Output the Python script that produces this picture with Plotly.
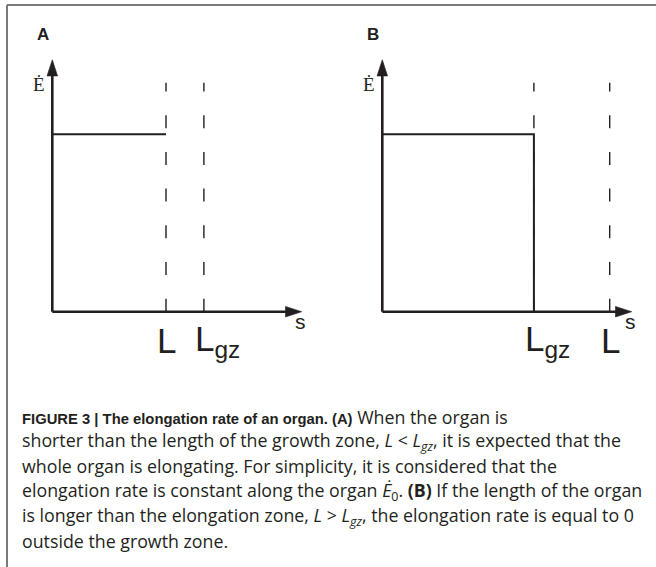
import plotly.graph_objects as go

# ---- data (schematic values, arbitrary units) ----
E0 = 1.0                 # constant elongation rate
A_L, A_LGZ = 3.0, 4.0    # panel A: organ length < growth-zone length
B_LGZ, B_L = 4.0, 6.0    # panel B: growth-zone length < organ length
S_END = 6.58             # length of s axis
E_TOP = 1.42             # length of rate axis
DASH_TOP = 1.29          # top of dashed guide lines

A_ticks = [A_L, A_LGZ]
A_labels = ["L", "L<sub>gz</sub>"]
B_ticks = [B_LGZ, B_L]
B_labels = ["L<sub>gz</sub>", "L"]

BOLD = "<span style='font-family:Liberation Sans, Arial;font-size:14.8px'><b>%s</b></span>"
caption_lines = [
    BOLD % "FIGURE 3 | The elongation rate of an organ. (A)" + " When the organ is",
    "shorter than the length of the growth zone, <i>L</i> &lt; <i>L<sub>gz</sub></i>, it is expected that the",
    "whole organ is elongating. For simplicity, it is considered that the",
    "elongation rate is constant along the organ <i>Ė</i><sub>0</sub>. <b>(B)</b> If the length of the organ",
    "is longer than the elongation zone, <i>L</i> &gt; <i>L<sub>gz</sub></i>, the elongation rate is equal to 0",
    "outside the growth zone.",
]

# ---- layout geometry ----
W, H = 656, 567
PX_X = 37.9      # px per s unit
PX_Y = 177.4     # px per rate unit
OX_A, OX_B = 52.3, 382.3
OY = 311.7       # origin y from top
INK = "#231f20"

xr_A = [-OX_A / PX_X, (W - OX_A) / PX_X]
xr_B = [-OX_B / PX_X, (W - OX_B) / PX_X]
yr = [-(H - OY) / PX_Y, OY / PX_Y]

fig = go.Figure()

def dashed(x, xa):
    fig.add_trace(go.Scatter(x=[x, x], y=[0, DASH_TOP], mode="lines", xaxis=xa, yaxis="y",
                             line=dict(color=INK, width=1.4, dash="13px,23.7px"),
                             hoverinfo="skip", showlegend=False))

def axis_arrow(xs, ys, xa):
    fig.add_trace(go.Scatter(x=xs, y=ys, mode="lines+markers", xaxis=xa, yaxis="y",
                             line=dict(color=INK, width=2.6),
                             marker=dict(symbol=["circle", "arrow"], size=[0, 17],
                                         angleref="previous", color=INK, opacity=1,
                                         line=dict(width=0.6, color=INK)),
                             hoverinfo="skip", showlegend=False))

for t in A_ticks:
    dashed(t, "x")
for t in B_ticks:
    dashed(t, "x2")

fig.add_trace(go.Scatter(x=[0, A_L], y=[E0, E0], mode="lines", xaxis="x", yaxis="y",
                         line=dict(color=INK, width=2), showlegend=False, hoverinfo="skip"))
fig.add_trace(go.Scatter(x=[0, B_LGZ, B_LGZ], y=[E0, E0, 0], mode="lines", xaxis="x2", yaxis="y",
                         line=dict(color=INK, width=2), showlegend=False, hoverinfo="skip"))

ann = []
for xa, panel in (("x", "A"), ("x2", "B")):
    axis_arrow([0, 0], [0, E_TOP], xa)
    axis_arrow([0, S_END], [0, 0], xa)
    ann.append(dict(x=0, y=E_TOP, xref=xa, yref="y", text="Ė", showarrow=False,
                    xanchor="center", yanchor="middle", xshift=-13, yshift=-25,
                    font=dict(family="Liberation Serif", size=19, color=INK)))
    ann.append(dict(x=S_END, y=0, xref=xa, yref="y", text="s", showarrow=False,
                    xanchor="center", yanchor="middle", xshift=-1, yshift=-10,
                    font=dict(family="Liberation Sans", size=21, color=INK)))
    ann.append(dict(x=0, y=E_TOP, xref=xa, yref="y", text="<b>%s</b>" % panel, showarrow=False,
                    xanchor="center", yanchor="middle", xshift=-9, yshift=25,
                    font=dict(family="Liberation Sans", size=17, color=INK)))

for ticks, labels, xa in ((A_ticks, A_labels, "x"), (B_ticks, B_labels, "x2")):
    for t, lab in zip(ticks, labels):
        ann.append(dict(x=t, y=0, xref=xa, yref="y", text=lab, showarrow=False,
                        xanchor="left", yanchor="middle", xshift=-11, yshift=-29,
                        font=dict(family="Liberation Sans", size=35, color=INK)))

y0, dy = 416.5, 24.9
for i, line in enumerate(caption_lines):
    ann.append(dict(x=21 / W, y=1 - (y0 + i * dy) / H, xref="paper", yref="paper",
                    text=line, showarrow=False, xanchor="left", yanchor="middle",
                    borderpad=0,
                    font=dict(family="Open Sans", size=17.8, color=INK)))

shapes = [
    dict(type="line", xref="paper", yref="paper", x0=7 / W, x1=1, y0=1 - 5 / H, y1=1 - 5 / H,
         line=dict(color="#7a7a7a", width=2)),
    dict(type="line", xref="paper", yref="paper", x0=7 / W, x1=7 / W, y0=0, y1=1 - 5 / H,
         line=dict(color="#7a7a7a", width=2)),
]

fig.update_layout(
    width=W, height=H, margin=dict(l=0, r=0, t=0, b=0),
    paper_bgcolor="white", plot_bgcolor="white",
    xaxis=dict(range=xr_A, visible=False, domain=[0, 1], fixedrange=True),
    xaxis2=dict(range=xr_B, visible=False, overlaying="x", anchor="y", fixedrange=True),
    yaxis=dict(range=yr, visible=False, domain=[0, 1], fixedrange=True),
    annotations=ann, shapes=shapes,
)

fig.write_html("out.html", config={"displayModeBar": False},
               post_script="document.body.style.margin='0';document.body.style.overflow='hidden';")
